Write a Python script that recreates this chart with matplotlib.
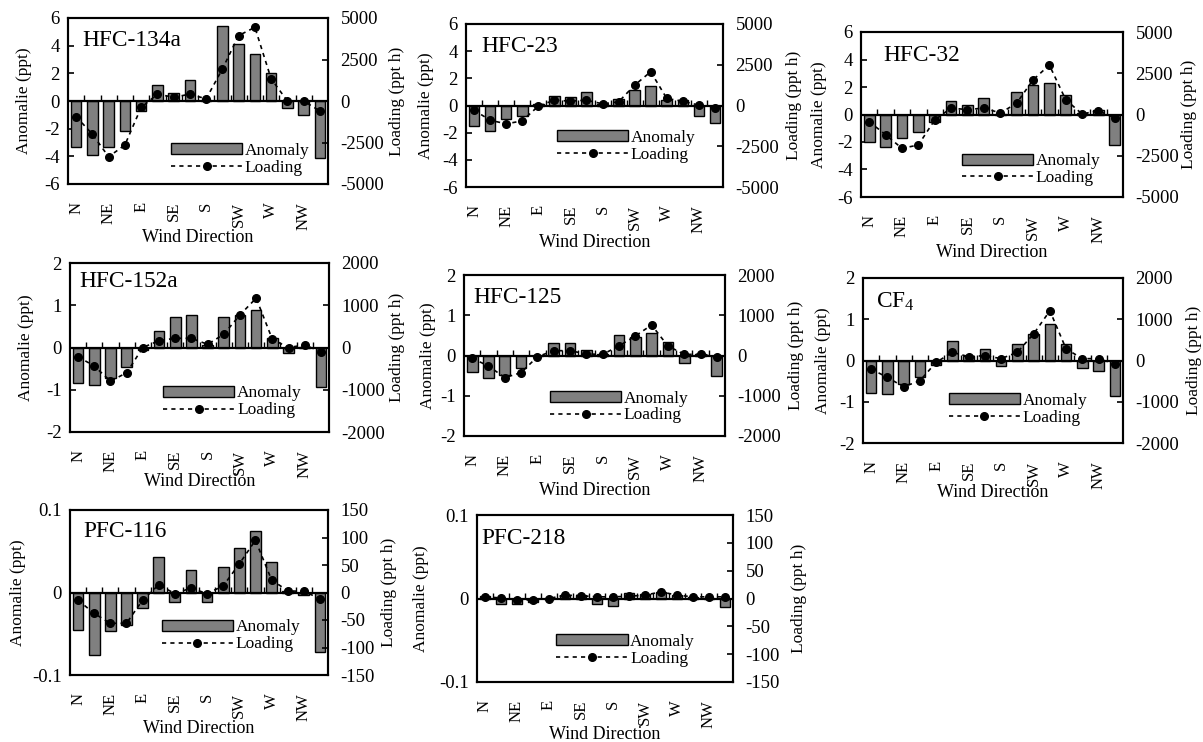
import matplotlib
matplotlib.use("Agg")
import matplotlib.pyplot as plt
from matplotlib.patches import Patch
from matplotlib.lines import Line2D

plt.rcParams['font.family'] = ['Liberation Serif', 'DejaVu Serif']
plt.rcParams['mathtext.fontset'] = 'custom'
plt.rcParams['mathtext.rm'] = 'Liberation Serif'
plt.rcParams['mathtext.it'] = 'Liberation Serif:italic'
plt.rcParams['axes.unicode_minus'] = False

directions = ['N', 'NNE', 'NE', 'ENE', 'E', 'ESE', 'SE', 'SSE',
              'S', 'SSW', 'SW', 'WSW', 'W', 'WNW', 'NW', 'NNW']
tick_labels = ['N', 'NE', 'E', 'SE', 'S', 'SW', 'W', 'NW']

gases = ['HFC-134a', 'HFC-23', 'HFC-32', 'HFC-152a', 'HFC-125', 'CF$_{\\mathrm{4}}$', 'PFC-116', 'PFC-218']

anom_hfc134a = [-3.3, -3.9, -3.3, -2.2, -0.75, 1.17, 0.6, 1.55, 0.1, 5.43, 4.1, 3.4, 2.05, -0.5, -1.0, -4.15]
load_hfc134a = [-940, -2000, -3360, -2650, -390, 410, 230, 410, 130, 1925, 3940, 4440, 1340, 0, 0, -600]

anom_hfc23 = [-1.5, -1.87, -1.0, -0.74, 0.1, 0.71, 0.61, 1.01, 0.08, 0.47, 1.13, 1.45, 0.39, 0.39, -0.76, -1.28]
load_hfc23 = [-287, -900, -1127, -943, -40, 330, 266, 330, 100, 225, 1250, 2070, 430, 266, 20, -123]

anom_hfc32 = [-2.0, -2.36, -1.71, -1.25, -0.55, 0.96, 0.69, 1.18, 0.05, 1.66, 2.12, 2.27, 1.42, 0.1, 0.33, -2.24]
load_hfc32 = [-434, -1222, -2050, -1850, -333, 394, 293, 394, 90, 677, 2090, 3000, 900, 30, 232, -212]

anom_hfc152a = [-0.85, -0.89, -0.73, -0.46, -0.05, 0.38, 0.73, 0.77, 0.05, 0.73, 0.77, 0.89, 0.22, -0.14, 0.02, -0.93]
load_hfc152a = [-218, -440, -796, -598, 0, 162, 218, 218, 75, 313, 772, 1168, 194, 0, 60, -100]

anom_hfc125 = [-0.40, -0.57, -0.48, -0.32, -0.02, 0.30, 0.30, 0.14, 0.03, 0.51, 0.47, 0.55, 0.34, -0.19, 0.03, -0.52]
load_hfc125 = [-70, -260, -550, -426, -30, 120, 120, 37, 29, 236, 484, 758, 236, 29, 29, -30]

anom_cf4 = [-0.78, -0.82, -0.57, -0.39, -0.11, 0.48, 0.11, 0.28, -0.13, 0.39, 0.64, 0.89, 0.39, -0.17, -0.25, -0.86]
load_cf4 = [-207, -410, -637, -491, -45, 199, 93, 118, 45, 199, 645, 1205, 280, 45, 45, -85]

anom_pfc116 = [-0.045, -0.076, -0.047, -0.039, -0.019, 0.043, -0.011, 0.027, -0.011, 0.031, 0.054, 0.074, 0.037, 0.002, -0.003, -0.072]
load_pfc116 = [-14, -38, -56, -56, -14, 14, -2, 8, -2, 12, 52, 95, 23, 3, 2, -11]

anom_pfc218 = [0.003, -0.006, -0.006, -0.004, -0.001, 0.004, 0.004, -0.006, -0.009, 0.007, 0.005, 0.008, 0.004, 0.002, 0.001, -0.010]
load_pfc218 = [3, 1, -2, -3, 0, 6, 5, 3, 3, 4, 6, 12, 6, 3, 3, 3]

anomalies = [anom_hfc134a, anom_hfc23, anom_hfc32, anom_hfc152a, anom_hfc125, anom_cf4, anom_pfc116, anom_pfc218]
loadings = [load_hfc134a, load_hfc23, load_hfc32, load_hfc152a, load_hfc125, load_cf4, load_pfc116, load_pfc218]

left_ticks_big = [-6, -4, -2, 0, 2, 4, 6]
left_ticks_mid = [-2, -1, 0, 1, 2]
left_ticks_small = [-0.1, 0, 0.1]
right_ticks_big = [-5000, -2500, 0, 2500, 5000]
right_ticks_mid = [-2000, -1000, 0, 1000, 2000]
right_ticks_small = [-150, -100, -50, 0, 50, 100, 150]

W, H = 1203, 742
# pixel boxes (x0, y0, x1, y1)
boxes = [(68, 18, 328, 184), (466, 24, 723, 187), (861, 32, 1123, 197),
         (70, 263, 329, 432), (464, 275, 725, 436), (863, 278, 1123, 443),
         (70, 510, 328, 675), (477, 515, 733, 682)]
legend_pos = [(0.396, 0.15), (0.354, 0.25), (0.386, 0.165), (0.36, 0.178),
              (0.33, 0.18), (0.33, 0.205), (0.356, 0.237), (0.31, 0.19)]
title_pos = [(0.054, 0.863), (0.058, 0.86), (0.085, 0.86), (0.035, 0.89),
             (0.034, 0.86), (0.05, 0.855), (0.05, 0.87), (0.016, 0.86)]
ylab_left = [-0.138, -0.125, -0.13, -0.139, -0.107, -0.123, -0.17, -0.1875]
ylab_right = [1.235, 1.245, 1.22, 1.232, 1.24, 1.242, 1.205, 1.227]
xlab_y = [-0.271, -0.288, -0.285, -0.243, -0.286, -0.248, -0.273, -0.263]

scales = ['big', 'big', 'big', 'mid', 'mid', 'mid', 'small', 'small']

fig = plt.figure(figsize=(W / 100, H / 100), dpi=100)
x = list(range(len(directions)))
bar_color = '#808080'

for i in range(8):
    x0, y0, x1, y1 = boxes[i]
    ax = fig.add_axes([x0 / W, 1 - y1 / H, (x1 - x0) / W, (y1 - y0) / H])
    ax2 = ax.twinx()
    if scales[i] == 'big':
        lt, rt = left_ticks_big, right_ticks_big
    elif scales[i] == 'mid':
        lt, rt = left_ticks_mid, right_ticks_mid
    else:
        lt, rt = left_ticks_small, right_ticks_small

    ax.bar(x, anomalies[i], width=0.66, color=bar_color, edgecolor='black', linewidth=1.0, zorder=2)
    ax.axhline(0, color='black', linewidth=1.6, zorder=3)
    bnd = [k + 0.5 for k in range(15)]
    ax.plot(bnd, [0] * len(bnd), linestyle='none', marker=2, markersize=4,
            markeredgewidth=1.0, color='black', zorder=3)
    ax.set_xlim(-0.5, 15.5)
    ax.set_ylim(lt[0], lt[-1])
    ax.set_yticks(lt)
    ax.set_yticklabels([('%g' % v) for v in lt])

    ax2.plot(x, loadings[i], linestyle=(0, (2.5, 2.5)), linewidth=1.2, color='black',
             marker='o', markersize=5.5, zorder=4)
    ax2.set_ylim(rt[0], rt[-1])
    ax2.set_yticks(rt)
    ax2.set_yticklabels([('%g' % v) for v in rt])

    ax.set_xticks(list(range(0, 16, 2)))
    ax.set_xticklabels(tick_labels, rotation=90, fontsize=12)
    ax.tick_params(axis='x', length=0, pad=13)
    ax.tick_params(axis='y', direction='in', length=4, width=1.2, labelsize=13.5, pad=6)
    ax2.tick_params(axis='y', direction='in', length=4, width=1.2, labelsize=13.5, pad=9)
    for sp in list(ax.spines.values()) + list(ax2.spines.values()):
        sp.set_linewidth(1.5)

    ax.set_ylabel('Anomalie (ppt)', fontsize=12.5)
    ax.yaxis.set_label_coords(ylab_left[i], 0.5)
    ax2.set_ylabel('Loading (ppt h)', fontsize=12.5)
    ax2.yaxis.set_label_coords(ylab_right[i], 0.5)
    ax.set_xlabel('Wind Direction', fontsize=13)
    ax.xaxis.set_label_coords(0.5, xlab_y[i])

    ax.text(title_pos[i][0], title_pos[i][1], gases[i], transform=ax.transAxes,
            fontsize=16.8, ha='left', va='center', zorder=5)

    handles = [Patch(facecolor=bar_color, edgecolor='black', linewidth=1.0),
               Line2D([0], [0], linestyle=(0, (2.5, 2.5)), linewidth=1.2, color='black',
                      marker='o', markersize=5.5)]
    ax2.legend(handles, ['Anomaly', 'Loading'], loc='center left',
               bbox_to_anchor=legend_pos[i], frameon=False, fontsize=12.5,
               handlelength=4.1, handleheight=0.6, handletextpad=0.15,
               labelspacing=0.05, borderpad=0, borderaxespad=0)

fig.savefig('out.png', dpi=100)
